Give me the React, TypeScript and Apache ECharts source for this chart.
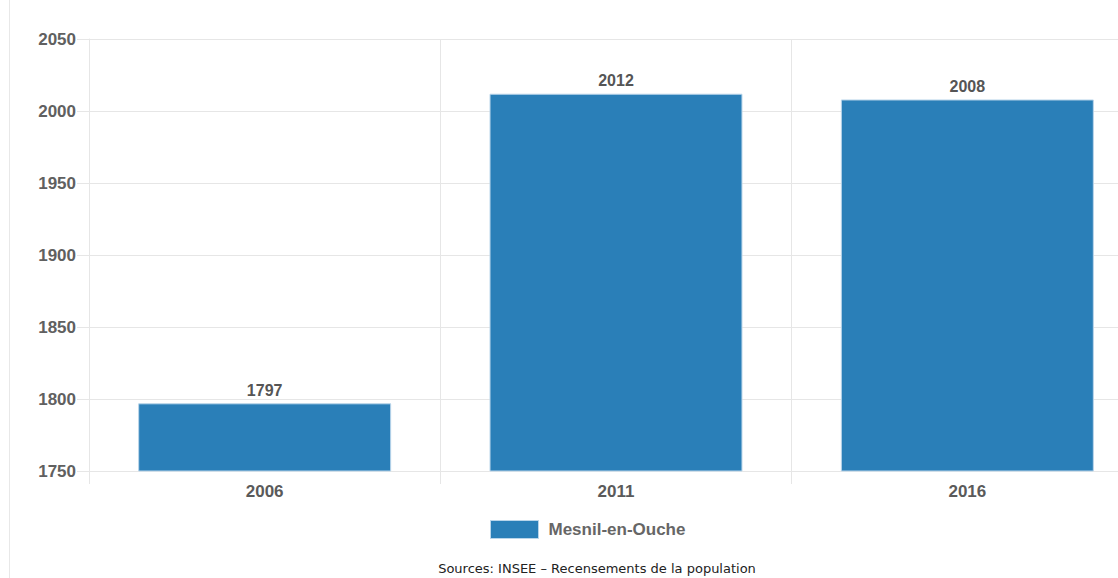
import React, { useEffect, useRef } from "react";
import * as echarts from "echarts";

const categories = ["2006", "2011", "2016"];
const population = [1797, 2012, 2008];
const seriesName = "Mesnil-en-Ouche";
const sourceText = "Sources: INSEE – Recensements de la population";

export default function App() {
  const ref = useRef<HTMLDivElement>(null);
  useEffect(() => {
    if (!ref.current) return;
    const chart = echarts.init(ref.current, null, { renderer: "svg" });
    const lineColor = "#e6e6e6";
    chart.setOption({
      animation: false,
      backgroundColor: "#fff",
      textStyle: { fontFamily: "Liberation Sans, Arial, sans-serif" },
      grid: {
        left: 89,
        top: 39,
        height: 432,
        width: 1054,
        containLabel: false,
        outerBoundsMode: "none",
      },
      legend: {
        data: [seriesName],
        left: 485,
        top: 515,
        icon: "rect",
        itemWidth: 48,
        itemHeight: 18,
        itemGap: 10,
        textStyle: { fontSize: 17, fontWeight: "bold", color: "#666", padding: [0, 0, 0, 5] },
        itemStyle: { borderColor: "#b9d5ea", borderWidth: 1 },
      },
      xAxis: {
        type: "category",
        data: categories,
        boundaryGap: true,
        axisLine: { show: true, lineStyle: { color: lineColor } },
        axisTick: { show: true, length: 13, lineStyle: { color: lineColor } },
        splitLine: { show: true, lineStyle: { color: lineColor } },
        axisLabel: { fontSize: 17, fontWeight: "bold", color: "#5a5a5a", margin: 12 },
      },
      yAxis: {
        type: "value",
        min: 1750,
        max: 2050,
        interval: 50,
        axisLine: { show: true, lineStyle: { color: lineColor } },
        axisTick: { show: true, length: 12, lineStyle: { color: lineColor } },
        splitLine: { show: true, lineStyle: { color: lineColor } },
        axisLabel: {
          fontSize: 17,
          fontWeight: "bold",
          color: "#606060",
          margin: 13,
          formatter: (v: number) => String(v),
        },
      },
      series: [
        {
          name: seriesName,
          type: "bar",
          data: population,
          barCategoryGap: "28%",
          itemStyle: { color: "#2a7fb8", borderColor: "#b9d5ea", borderWidth: 1 },
          label: {
            show: true,
            position: "top",
            distance: 5,
            fontSize: 16,
            fontWeight: "bold",
            color: "#555",
          },
        },
      ],
      graphic: [
        {
          type: "line",
          shape: { x1: 9.5, y1: 0, x2: 9.5, y2: 578 },
          style: { stroke: "#e8e8e8", lineWidth: 1 },
        },
        {
          type: "text",
          x: 597,
          y: 568,
          style: {
            text: sourceText,
            fontSize: 13,
            fontFamily: "DejaVu Sans",
            fill: "#222",
            align: "center",
            verticalAlign: "middle",
          },
        },
      ],
    });
    return () => chart.dispose();
  }, []);
  return <div ref={ref} style={{ width: 1118, height: 578, position: "absolute", left: 0, top: 0 }} />;
}
